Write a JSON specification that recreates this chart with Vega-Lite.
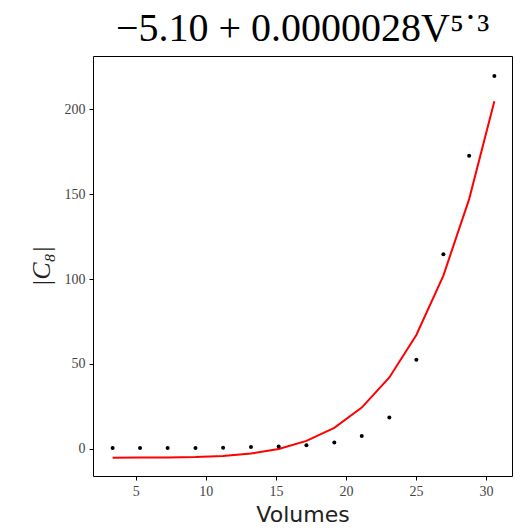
{
  "$schema": "https://vega.github.io/schema/vega-lite/v6.json",
  "autosize": {"type": "none"},
  "padding": {"left": 93, "top": 56, "right": 8, "bottom": 56},
  "width": 419,
  "height": 420,
  "background": "white",
  "config": {"view": {"stroke": "black", "strokeWidth": 1}},
  "title": {
    "text": "−5.10 + 0.0000028V⁵˙³",
    "font": "Liberation Serif",
    "fontSize": 40,
    "fontWeight": "normal",
    "color": "black",
    "anchor": "middle",
    "offset": 7
  },
  "data": {
    "values": [
      {"V": 3.34, "C": 0.5, "fit": -5.10},
      {"V": 5.3, "C": 0.5, "fit": -5.08},
      {"V": 7.27, "C": 0.5, "fit": -5.00},
      {"V": 9.26, "C": 0.6, "fit": -4.73},
      {"V": 11.23, "C": 0.7, "fit": -4.07},
      {"V": 13.22, "C": 1.2, "fit": -2.65},
      {"V": 15.2, "C": 1.5, "fit": 0.04},
      {"V": 17.18, "C": 2.2, "fit": 4.74},
      {"V": 19.17, "C": 3.8, "fit": 12.46},
      {"V": 21.13, "C": 7.6, "fit": 24.36},
      {"V": 23.1, "C": 18.5, "fit": 42.1},
      {"V": 25.03, "C": 52.5, "fit": 67.1},
      {"V": 26.96, "C": 114.5, "fit": 102.0},
      {"V": 28.8, "C": 172.5, "fit": 147.0},
      {"V": 30.6, "C": 219.5, "fit": 204.6}
    ]
  },
  "encoding": {
    "x": {
      "field": "V",
      "type": "quantitative",
      "scale": {"domain": [1.94, 31.86], "nice": false, "zero": false},
      "axis": {
        "values": [5, 10, 15, 20, 25, 30],
        "title": "Volumes",
        "titleFont": "DejaVu Sans",
        "titleFontSize": 22,
        "titleFontWeight": "normal",
        "titleColor": "#222",
        "titlePadding": 6,
        "labelFont": "Liberation Serif",
        "labelFontSize": 14,
        "labelColor": "#444",
        "labelPadding": 4,
        "grid": false,
        "domain": false,
        "tickColor": "black",
        "tickSize": 4
      }
    },
    "y": {
      "scale": {"domain": [-15.9, 231.2], "nice": false, "zero": false},
      "axis": {
        "values": [0, 50, 100, 150, 200],
        "title": "|C₈|",
        "titleFont": "Liberation Serif",
        "titleFontStyle": "italic",
        "titleFontSize": 26,
        "titleFontWeight": "normal",
        "titleColor": "#222",
        "titlePadding": 10,
        "labelFont": "Liberation Serif",
        "labelFontSize": 14,
        "labelColor": "#444",
        "labelPadding": 4,
        "grid": false,
        "domain": false,
        "tickColor": "black",
        "tickSize": 4
      }
    }
  },
  "layer": [
    {
      "mark": {"type": "line", "color": "red", "strokeWidth": 2},
      "encoding": {"y": {"field": "fit", "type": "quantitative"}}
    },
    {
      "mark": {"type": "circle", "color": "black", "size": 16, "opacity": 1},
      "encoding": {"y": {"field": "C", "type": "quantitative"}}
    }
  ]
}
